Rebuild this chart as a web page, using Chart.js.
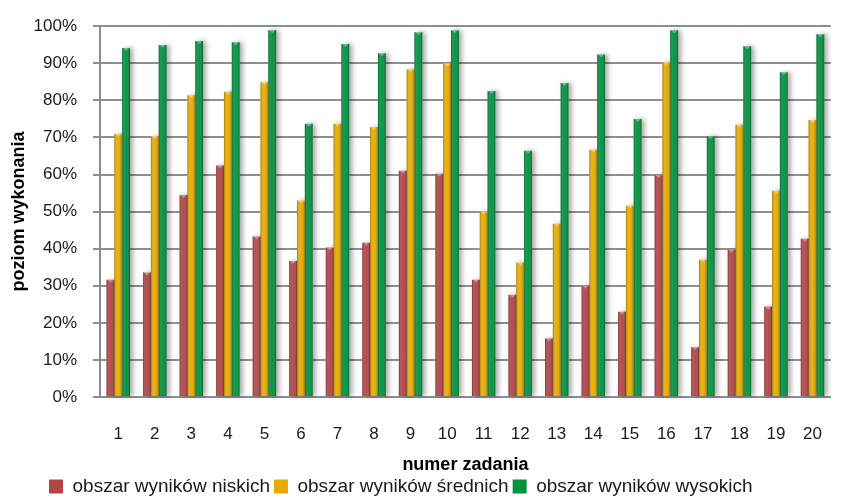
<!DOCTYPE html>
<html>
<head>
<meta charset="utf-8">
<script src="https://cdn.jsdelivr.net/npm/chart.js@4.4.1/dist/chart.umd.min.js"></script>
<style>
  html, body { margin: 0; padding: 0; background: #fff; overflow: hidden; }
  #wrap { width: 841px; height: 502px; overflow: hidden; }
</style>
</head>
<body>
<div id="wrap"><canvas id="chart" width="849" height="502"></canvas></div>
<script>
// numer zadania
const zadania = ['1', '2', '3', '4', '5', '6', '7', '8', '9', '10',
  '11', '12', '13', '14', '15', '16', '17', '18', '19', '20'];

// poziom wykonania w procentach
const niskie = [31.6, 33.6, 54.5, 62.4, 43.3, 36.7, 40.3, 41.6, 61.0, 60.2,
  31.6, 27.6, 15.8, 30.0, 23.0, 59.9, 13.4, 39.7, 24.4, 42.7];
const srednie = [70.9, 70.4, 81.4, 82.3, 84.9, 53.0, 73.7, 72.8, 88.4, 89.9,
  50.0, 36.3, 46.7, 66.7, 51.6, 90.3, 37.0, 73.4, 55.6, 74.7];
const wysokie = [94.1, 94.9, 96.0, 95.7, 98.9, 73.7, 95.2, 92.7, 98.4, 98.9,
  82.5, 66.4, 84.7, 92.4, 75.0, 98.9, 70.4, 94.6, 87.6, 97.8];

const yMin = 0;
const yMax = 100;
const yStep = 10;

const FONT = "'Liberation Sans', Arial, sans-serif";

// cien i cieniowanie slupkow (efekt walca jak w Excelu)
const barShade = {
  id: 'barShade',
  afterLayout(chart) {
    // legenda: blizej lewej krawedzi i nizej, jak w oryginale
    if (chart.legend) {
      chart.legend.left = 45;
      chart.legend.top += 4;
    }
  },
  beforeDatasetsDraw(chart) {
    const ctx = chart.ctx;
    ctx.save();
    ctx.shadowColor = 'rgba(0,0,0,0.35)';
    ctx.shadowBlur = 5;
    ctx.shadowOffsetX = 3;
    ctx.shadowOffsetY = 0;
    ctx.fillStyle = '#fff';
    chart.data.datasets.forEach((ds, i) => {
      chart.getDatasetMeta(i).data.forEach((bar) => {
        const w = bar.width;
        ctx.fillRect(bar.x - w / 2, bar.y, w, bar.base - bar.y);
      });
    });
    ctx.restore();
  },
  afterDatasetsDraw(chart) {
    const ctx = chart.ctx;
    ctx.save();
    chart.data.datasets.forEach((ds, i) => {
      chart.getDatasetMeta(i).data.forEach((bar) => {
        const w = bar.width;
        const l = bar.x - w / 2;
        const g = ctx.createLinearGradient(l, 0, l + w, 0);
        g.addColorStop(0, 'rgba(0,0,0,0.30)');
        g.addColorStop(0.3, 'rgba(255,255,255,0.10)');
        g.addColorStop(0.55, 'rgba(255,255,255,0.04)');
        g.addColorStop(1, 'rgba(0,0,0,0.34)');
        ctx.fillStyle = g;
        ctx.fillRect(l, bar.y, w, bar.base - bar.y);
        // jasny trojkat na gorze
        ctx.fillStyle = 'rgba(255,255,255,0.35)';
        ctx.beginPath();
        ctx.moveTo(l + 1, bar.y);
        ctx.lineTo(l + w - 1, bar.y);
        ctx.lineTo(bar.x, bar.y + 3);
        ctx.closePath();
        ctx.fill();
      });
    });
    ctx.restore();
  },
};

new Chart(document.getElementById('chart'), {
  type: 'bar',
  data: {
    labels: zadania,
    datasets: [
      { label: 'obszar wyników niskich', data: niskie, backgroundColor: '#b24546' },
      { label: 'obszar wyników średnich', data: srednie, backgroundColor: '#e6ab00' },
      { label: 'obszar wyników wysokich', data: wysokie, backgroundColor: '#00913f' },
    ],
  },
  options: {
    responsive: false,
    animation: false,
    events: [],
    layout: { padding: { left: 6, top: 24, right: 1, bottom: 0 } },
    datasets: {
      bar: { categoryPercentage: 0.642, barPercentage: 1.0, borderWidth: 0 },
    },
    plugins: {
      legend: {
        position: 'bottom',
        align: 'start',
        labels: {
          boxWidth: 14,
          boxHeight: 14,
          padding: 4,
          color: '#1a1a1a',
          font: { family: FONT, size: 19 },
        },
      },
      tooltip: { enabled: false },
    },
    scales: {
      x: {
        grid: { display: false, drawTicks: false },
        border: { display: true, color: '#8c8c8c', width: 2 },
        ticks: {
          padding: 27,
          color: '#1a1a1a',
          maxRotation: 0,
          autoSkip: false,
          font: { family: FONT, size: 17 },
        },
        title: {
          display: true,
          text: 'numer zadania',
          color: '#000',
          padding: { top: 0, bottom: -7 },
          font: { family: FONT, size: 18, weight: 'bold' },
        },
        afterFit: (s) => { s.height = 72; },
      },
      y: {
        min: yMin,
        max: yMax,
        grid: { color: '#8f8f8f', lineWidth: 2, tickLength: 7 },
        border: { display: true, color: '#8c8c8c', width: 2 },
        ticks: {
          stepSize: yStep,
          padding: 16,
          color: '#1a1a1a',
          font: { family: FONT, size: 17 },
          callback: (v) => v + '%',
        },
        title: {
          display: true,
          text: 'poziom wykonania',
          color: '#000',
          padding: { top: 2, bottom: 0 },
          font: { family: FONT, size: 18, weight: 'bold' },
        },
        afterFit: (s) => { s.width = 94; },
      },
    },
  },
  plugins: [barShade],
});
</script>
</body>
</html>
